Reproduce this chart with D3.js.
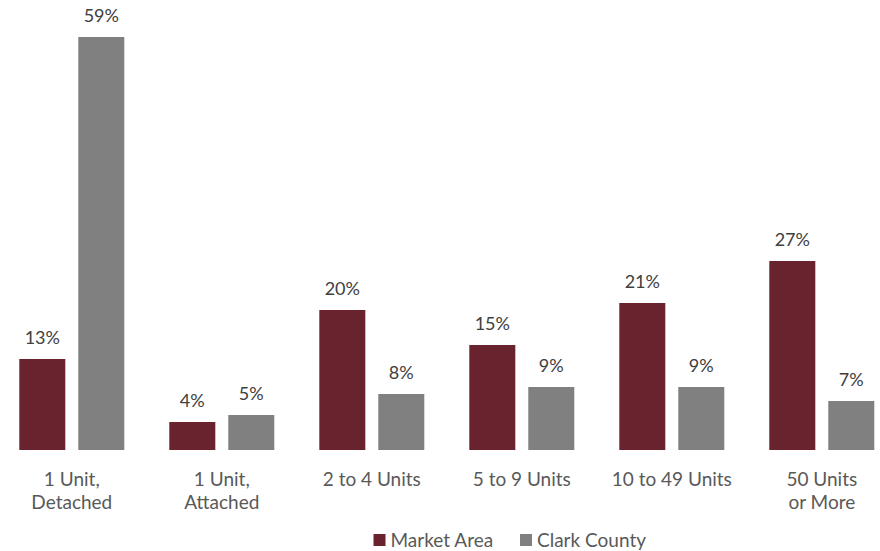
<!DOCTYPE html>
<html>
<head>
<meta charset="utf-8">
<script src="https://cdn.jsdelivr.net/npm/d3@7"></script>
<style>
  html, body { margin: 0; padding: 0; background: #ffffff; }
  svg { display: block; font-family: Lato, "Open Sans", sans-serif; }
</style>
</head>
<body>
<svg id="chart" width="880" height="551"></svg>
<script>
// Housing units by structure type, share of total
const categories = [["1 Unit,", "Detached"], ["1 Unit,", "Attached"], ["2 to 4 Units"], ["5 to 9 Units"], ["10 to 49 Units"], ["50 Units", "or More"]];
const seriesNames = ["Market Area", "Clark County"];
const marketArea = [13, 4, 20, 15, 21, 27];
const clarkCounty = [59, 5, 8, 9, 9, 7];
const colors = ["#68232E", "#808080"];

const svg = d3.select("#chart");
const baseline = 450;

const x0 = d3.scaleBand()
  .domain(d3.range(categories.length))
  .range([-3.2, 896.8])
  .paddingInner(0.3)
  .paddingOuter(0.15);

const x1 = d3.scaleBand()
  .domain(seriesNames)
  .range([0, x0.bandwidth()])
  .paddingInner(0.22);

const y = d3.scaleLinear().domain([0, 60]).range([baseline, 30]);

const rows = categories.map((c, i) => ({
  i,
  values: [
    { name: seriesNames[0], v: marketArea[i] },
    { name: seriesNames[1], v: clarkCounty[i] }
  ]
}));

const groups = svg.append("g").selectAll("g")
  .data(rows)
  .join("g")
  .attr("transform", d => `translate(${x0(d.i)},0)`);

groups.selectAll("rect")
  .data(d => d.values)
  .join("rect")
  .attr("x", d => x1(d.name))
  .attr("width", x1.bandwidth())
  .attr("y", d => y(d.v))
  .attr("height", d => y(0) - y(d.v))
  .attr("fill", (d, j) => colors[j]);

groups.selectAll("text.val")
  .data(d => d.values)
  .join("text")
  .attr("class", "val")
  .attr("x", d => x1(d.name) + x1.bandwidth() / 2)
  .attr("y", d => y(d.v) - 15)
  .attr("text-anchor", "middle")
  .attr("font-size", 18)
  .attr("fill", "#404040")
  .text(d => d.v + "%");

// Category axis labels
const xAxis = svg.append("g");
xAxis.selectAll("text")
  .data(categories)
  .join("text")
  .attr("x", (d, i) => x0(i) + x0.bandwidth() / 2)
  .attr("y", 486)
  .attr("text-anchor", "middle")
  .attr("font-size", 19)
  .attr("fill", "#595959")
  .selectAll("tspan")
  .data(d => d)
  .join("tspan")
  .attr("x", function() { return this.parentNode.getAttribute("x"); })
  .attr("dy", (d, k) => k === 0 ? 0 : 23)
  .text(d => d);

// Legend
const legendItems = [
  { name: seriesNames[0], x: 373.5, color: colors[0] },
  { name: seriesNames[1], x: 520, color: colors[1] }
];
const legend = svg.append("g");
const li = legend.selectAll("g").data(legendItems).join("g")
  .attr("transform", d => `translate(${d.x},534)`);
li.append("rect").attr("width", 12).attr("height", 12).attr("fill", d => d.color);
li.append("text")
  .attr("x", 17)
  .attr("y", 12.5)
  .attr("font-size", 19)
  .attr("fill", "#595959")
  .text(d => d.name);
</script>
</body>
</html>
